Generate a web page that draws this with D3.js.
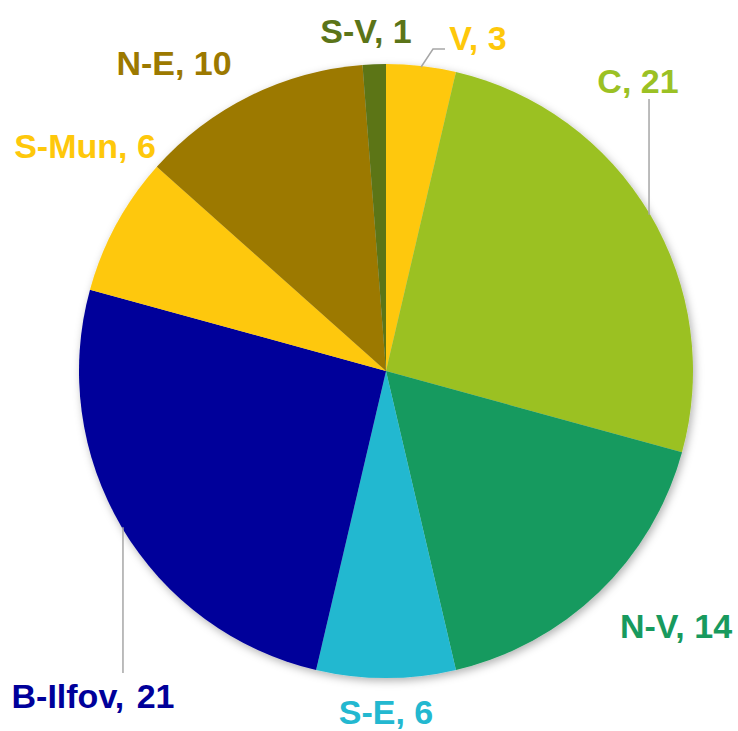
<!DOCTYPE html>
<html>
<head>
<meta charset="utf-8">
<script src="https://cdn.jsdelivr.net/npm/d3@7"></script>
<style>
  body { margin: 0; background: #fff; }
  svg { display: block; }
</style>
</head>
<body>
<svg id="chart"></svg>
<script>
// data
const regions = ["V", "C", "N-V", "S-E", "B-Ilfov", "S-Mun", "N-E", "S-V"];
const counts = [3, 21, 14, 6, 21, 6, 10, 1];
const colors = ["#fec80b", "#9bc124", "#189a5e", "#23b8d0", "#00009a", "#fec80b", "#9c7900", "#5b7418"];

// label placement, relative to pie centre (baseline middle)
const labelOffsets = [[92, -321], [252, -278], [290, 267], [0, 353], [-293, 337], [-301, -213], [-212, -296], [-20, -328]];
// leader bends (null = no leader); "x" means keep start x
const leaders = [[[47, -322], [59, -322]], [["x", -272]], null, null, [["x", 302]], null, null, null];

const width = 738, height = 731;
const cx = 386, cy = 371, radius = 307;

const data = regions.map((r, i) => ({ name: r, value: counts[i], color: colors[i], i: i }));

const svg = d3.select("#chart").attr("width", width).attr("height", height);

const defs = svg.append("defs");
const f = defs.append("filter").attr("id", "shadow")
  .attr("x", "-10%").attr("y", "-10%").attr("width", "120%").attr("height", "120%");
f.append("feDropShadow").attr("dx", 2).attr("dy", 3).attr("stdDeviation", 4)
  .attr("flood-color", "#000").attr("flood-opacity", 0.3);

const g = svg.append("g").attr("transform", `translate(${cx},${cy})`);

const pie = d3.pie().value(d => d.value).sort(null);
const arc = d3.arc().innerRadius(0).outerRadius(radius);
const edge = d3.arc().innerRadius(radius - 1).outerRadius(radius - 1);

const arcs = pie(data);

g.append("g").attr("filter", "url(#shadow)")
  .selectAll("path")
  .data(arcs)
  .enter()
  .append("path")
  .attr("d", arc)
  .attr("fill", d => d.data.color);

// leader lines
arcs.forEach(d => {
  const bends = leaders[d.data.i];
  if (!bends) return;
  const start = edge.centroid(d);
  const pts = [start].concat(bends.map(p => [p[0] === "x" ? start[0] : p[0], p[1]]));
  g.append("path")
    .attr("d", d3.line()(pts))
    .attr("fill", "none")
    .attr("stroke", "#a6a6a6")
    .attr("stroke-width", 1.5);
});

// labels
g.selectAll("text.lbl")
  .data(arcs)
  .enter()
  .append("text")
  .attr("class", "lbl")
  .attr("x", d => labelOffsets[d.data.i][0])
  .attr("y", d => labelOffsets[d.data.i][1])
  .attr("text-anchor", "middle")
  .style("font-family", "'Liberation Sans', Arial, sans-serif")
  .style("font-weight", "bold")
  .style("font-size", "34px")
  .style("word-spacing", d => d.data.name === "B-Ilfov" ? "3px" : "0px")
  .attr("fill", d => d.data.color)
  .text(d => `${d.data.name}, ${d.data.value}`);
</script>
</body>
</html>
